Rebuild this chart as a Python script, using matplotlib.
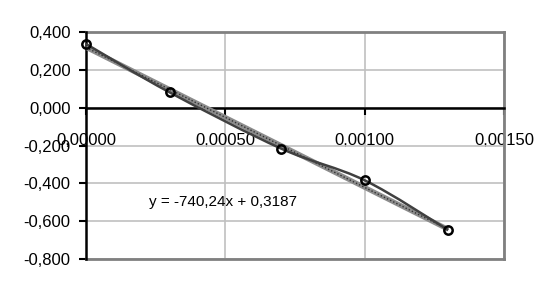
import numpy as np
import matplotlib
matplotlib.use('Agg')
import matplotlib.pyplot as plt
from matplotlib.path import Path
from matplotlib.patches import PathPatch
from matplotlib.ticker import FuncFormatter

plt.rcParams['font.family'] = ['Liberation Sans', 'DejaVu Sans']

# data
x_vals = [0.0, 0.0003, 0.0007, 0.0010, 0.0013]
y_vals = [0.337, 0.081, -0.216, -0.384, -0.647]
slope = -740.24
intercept = 0.3187
eq_text = 'y = -740,24x + 0,3187'
x_ticks = [0.0, 0.0005, 0.0010, 0.0015]
y_ticks = [-0.8, -0.6, -0.4, -0.2, 0.0, 0.2, 0.4]

fig = plt.figure(figsize=(5.58, 2.96), dpi=100)
ax = fig.add_axes([86/558, 1-259/296, (504-86)/558, (259-32)/296])
ax.set_xlim(0, 0.0015)
ax.set_ylim(-0.8, 0.4)

# grid
ax.set_xticks(x_ticks)
ax.set_yticks(y_ticks)
ax.grid(True, color='#c0c0c0', lw=1.2, zorder=0)
ax.set_axisbelow(True)

# spines: y axis at x=0, x axis at y=0
ax.spines['left'].set_position(('data', 0))
ax.spines['left'].set_color('black')
ax.spines['left'].set_linewidth(1.8)
ax.spines['bottom'].set_position(('data', 0))
ax.spines['bottom'].set_color('black')
ax.spines['bottom'].set_linewidth(1.8)
ax.spines['top'].set_visible(False)
ax.spines['right'].set_visible(False)
# plot area border (grey)
ax.plot([1, 1], [0, 1], transform=ax.transAxes, color='#808080', lw=2, clip_on=False, zorder=1)
ax.plot([0, 1], [0, 0], transform=ax.transAxes, color='#808080', lw=2, clip_on=False, zorder=1)
ax.plot([0, 1], [1, 1], transform=ax.transAxes, color='#808080', lw=2, clip_on=False, zorder=1)

ax.tick_params(axis='y', direction='out', length=5, width=1.5, labelsize=12, pad=6)
ax.tick_params(axis='x', direction='out', length=5, width=1.5, labelsize=12, pad=13)
ax.yaxis.set_major_formatter(FuncFormatter(lambda v, p: ('%.3f' % v).replace('.', ',')))
ax.xaxis.set_major_formatter(FuncFormatter(lambda v, p: ('%.5f' % v).replace('.', ',')))

# trendline
tx = np.array([x_vals[0], x_vals[-1]])
ty = slope * tx + intercept
ax.plot(tx, ty, color='#8c8c8c', lw=3.5, zorder=3, solid_capstyle='butt')
ax.plot(tx, ty, color='#303030', lw=1, ls=(0, (1, 1.5)), zorder=3)

# smoothed series line (Catmull-Rom as bezier)
pts = np.column_stack([x_vals, y_vals])
verts = [pts[0]]
codes = [Path.MOVETO]
n = len(pts)
for i in range(n - 1):
    p0 = pts[i - 1] if i > 0 else pts[i]
    p1 = pts[i]
    p2 = pts[i + 1]
    p3 = pts[i + 2] if i + 2 < n else pts[i + 1]
    c1 = p1 + (p2 - p0) / 6.0
    c2 = p2 - (p3 - p1) / 6.0
    verts += [c1, c2, p2]
    codes += [Path.CURVE4] * 3
ax.add_patch(PathPatch(Path(verts, codes), fill=False, edgecolor='#404040', lw=1.8, zorder=4))

ax.plot(x_vals, y_vals, ls='none', marker='o', ms=6, mfc='none', mec='black', mew=1.8,
        zorder=5, clip_on=False)

ax.text(0.000225, -0.5, eq_text, fontsize=11, va='center', ha='left', zorder=6)

fig.savefig('out.png', dpi=100)
